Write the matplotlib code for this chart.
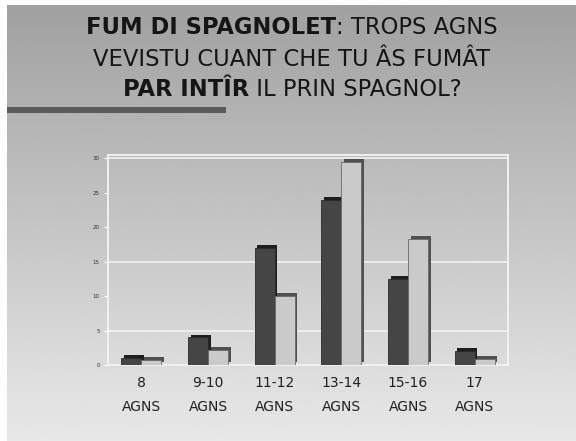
import numpy as np
import matplotlib
matplotlib.use("Agg")
import matplotlib.pyplot as plt
from matplotlib.patches import Rectangle

# data
groups = ["8\nAGNS", "9-10\nAGNS", "11-12\nAGNS", "13-14\nAGNS", "15-16\nAGNS", "17\nAGNS"]
serie_a = [1, 4, 17, 24, 12.5, 2]
serie_b = [0.7, 2.2, 10, 29.5, 18.3, 0.9]
yticks = [0, 5, 10, 15, 20, 25, 30]

title_lines = [
    [("FUM DI SPAGNOLET", "bold"), (": TROPS AGNS", "normal")],
    [("VEVISTU CUANT CHE TU ÂS FUMÂT", "normal")],
    [("PAR INTÎR", "bold"), (" IL PRIN SPAGNOL?", "normal")],
]

W, H = 576, 441
fig = plt.figure(figsize=(W / 100, H / 100), dpi=100)
fig.patch.set_facecolor("white")

# grey gradient background (white margin top and left)
bg = fig.add_axes([7 / W, 0, 1 - 7 / W, 1 - 5 / H])
grad = np.linspace(0, 1, 256).reshape(-1, 1)
bg.imshow(grad, aspect="auto", cmap="gray", vmin=-2.25, vmax=1.32,
          extent=[0, 1, 0, 1], origin="upper")
bg.set_xlim(0, 1)
bg.set_ylim(0, 1)
bg.axis("off")

# decorative bar under the title
fig.add_artist(Rectangle((7 / W, 1 - 113 / H), 219 / W, 6 / H,
                         transform=fig.transFigure, color="#5a5a5a", lw=0))

# title, mixed bold / normal pieces, centred per line
line_y = [27, 59, 89]
renderer = fig.canvas.get_renderer()
for pieces, yp in zip(title_lines, line_y):
    texts = []
    for s, w in pieces:
        t = fig.text(0, 1 - yp / H, s, fontsize=16.3, fontweight=w,
                     color="#151515", va="center", ha="left",
                     family="DejaVu Sans")
        texts.append(t)
    widths = [t.get_window_extent(renderer).width for t in texts]
    x0 = (292 - sum(widths) / 2)
    for t, wd in zip(texts, widths):
        t.set_x(x0 / W)
        x0 += wd

# the chart
ax = fig.add_axes([108 / W, 1 - 365 / H, 400 / W, 210 / H])
ax.set_facecolor("none")
x = np.arange(len(groups))
bw = 0.3
dx, dy = 0.04, 0.4

# 3d-ish side/top faces drawn as offset bars behind the fronts
ax.bar(x - bw / 2 + dx, serie_a, bw, bottom=dy, color="#1e1e1e", zorder=2)
ax.bar(x + bw / 2 + dx, serie_b, bw, bottom=dy, color="#505050", zorder=2)
ax.bar(x - bw / 2, serie_a, bw, color="#454545", edgecolor="#2a2a2a",
       lw=0.6, zorder=3)
ax.bar(x + bw / 2, serie_b, bw, color="#cacaca", edgecolor="#6a6a6a",
       lw=0.6, zorder=3)

ax.set_xlim(-0.5, len(groups) - 0.5)
ax.set_ylim(0, 30.5)
ax.set_yticks(yticks)
ax.set_yticklabels([str(v) for v in yticks], fontsize=4, color="#333333")
ax.set_xticks(x)
ax.set_xticklabels(groups, fontsize=10, color="#202020", linespacing=1.9)
ax.tick_params(axis="x", length=0, pad=8)
ax.tick_params(axis="y", length=3, color="white", pad=3)
for yv in [5, 15, 30]:
    ax.axhline(yv, color="#f2f2f2", lw=1.2, zorder=1)
for s in ["left", "bottom", "top", "right"]:
    ax.spines[s].set_color("#f4f4f4")
    ax.spines[s].set_linewidth(1.3)

fig.savefig("out.png", dpi=100)
